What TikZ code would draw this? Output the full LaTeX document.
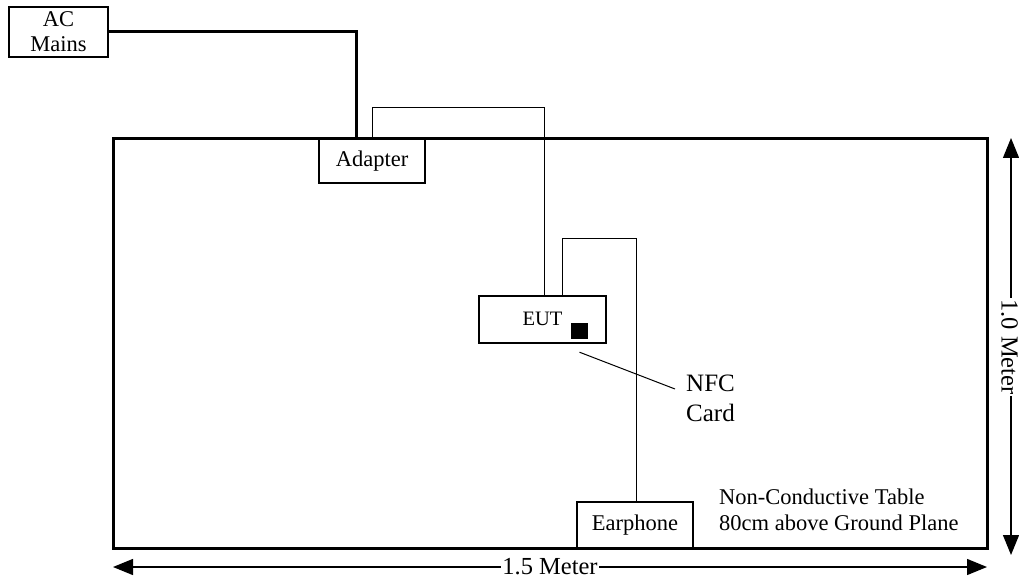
\documentclass[tikz,border=0pt]{standalone}
\usepackage{fontspec}
\setmainfont{Liberation Serif}
\usetikzlibrary{arrows.meta,calc}
\begin{document}
\begin{tikzpicture}[x=1pt,y=-1pt,
  every node/.style={font=\fontsize{22.5}{25}\selectfont},
  box/.style={draw,line width=1.3pt,fill=white,inner sep=0pt,align=center},
  tablebox/.style={draw,line width=3pt,inner sep=0pt},
  mainswire/.style={line width=3pt},
  wire/.style={line width=1pt},
  dim/.style={line width=1.3pt,{Triangle[length=20pt,width=16pt]}-{Triangle[length=20pt,width=16pt]}},
  dimlabel/.style={fill=white,inner sep=1pt,font=\fontsize{24.5}{26}\selectfont},
  lbl/.style={inner sep=0pt,align=left}]
\useasboundingbox (0,0) rectangle (1019,580);
% table
\node[tablebox,minimum width=874pt,minimum height=409pt] (tbl) at (550,343.5) {};
% boxes
\node[box,minimum width=99pt,minimum height=50pt] (ac) at (58.5,32) {AC\\Mains};
\node[box,minimum width=106pt,minimum height=44pt] (adapter) at (372,161) {Adapter};
\node[box,minimum width=127pt,minimum height=47pt,font=\fontsize{20.5}{24}\selectfont] (eut) at (542.5,319.5) {\raisebox{2pt}{EUT}};
\node[fill=black,inner sep=0pt,minimum width=17pt,minimum height=16pt] (sq) at (579.5,331) {};
\node[box,minimum width=116pt,minimum height=46pt] (earphone) at (635,525) {Earphone};
% labels
\node[lbl,anchor=west,font=\fontsize{25}{30}\selectfont] (nfc) at (686,398) {NFC\\Card};
\node[lbl,anchor=west,font=\fontsize{22.5}{26}\selectfont] (tbltext) at (719,510) {Non-Conductive Table\\80cm above Ground Plane};
% wires
\draw[mainswire] (ac.east) -| ([xshift=-16pt]adapter.north);
\draw[wire] (adapter.north) -- ++(0,-31) -| ([xshift=1.5pt]eut.north);
\draw[wire] ([xshift=19.5pt]eut.north) -- ++(0,-57) -| ([xshift=1pt]earphone.north);
\draw[wire] ([yshift=-13pt]sq.south) -- ([xshift=-11pt,yshift=9pt]nfc.west);
% dimensions
\coordinate (hl) at (113,567);
\coordinate (hr) at (987,567);
\draw[dim] (hl) -- (hr) node[midway,dimlabel] {1.5 Meter};
\coordinate (vt) at (1011,138);
\coordinate (vb) at (1011,555);
\coordinate (vm) at (1009.5,347);
\draw[dim] (vt) -- (vb);
\node[dimlabel,rotate=-90] (vlabel) at (vm) {1.0 Meter};
\end{tikzpicture}
\end{document}
